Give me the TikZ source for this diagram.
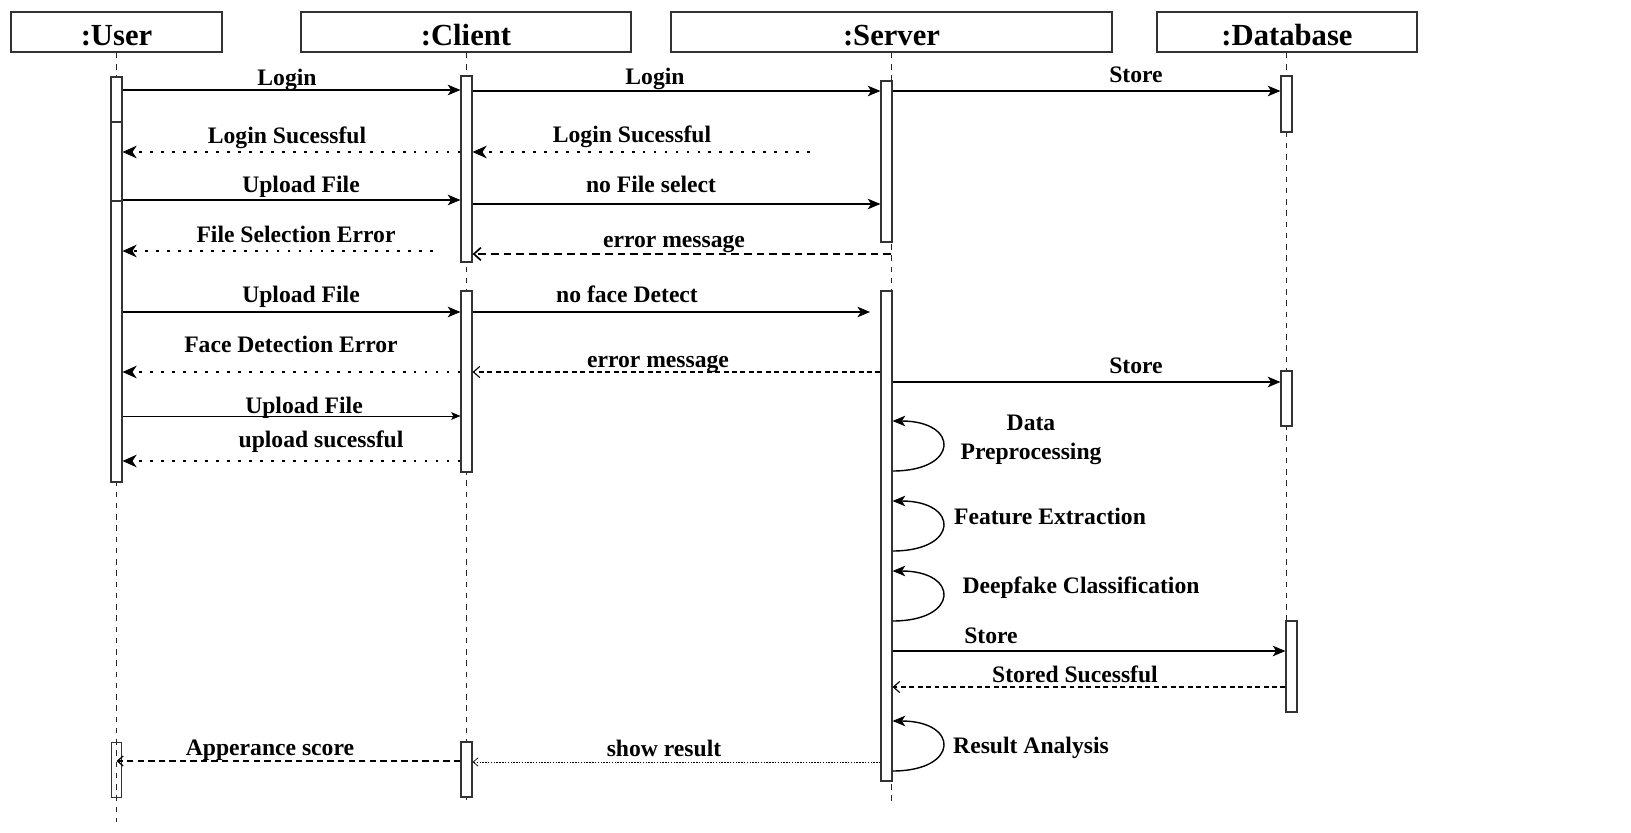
\documentclass[tikz,border=0pt]{standalone}
\usepackage{fontspec}
\setmainfont{Liberation Serif}
\usetikzlibrary{arrows.meta, fit}

\begin{document}
\begin{tikzpicture}[x=0.025cm, y=-0.025cm,
    head/.style={draw=black!80, line width=1.1pt, inner sep=0pt, minimum width=#1, minimum height=1cm,
        text height=0.7cm, text depth=0pt, font=\fontsize{21.8}{26}\selectfont\bfseries},
    lbl/.style={anchor=base, inner sep=0pt, font=\fontsize{16.8}{20.6}\selectfont\bfseries},
    act/.style={draw=black!80, line width=0.9pt, fill=white, inner sep=0pt},
    lifeline/.style={dash pattern=on 4pt off 4pt, line width=0.7pt, black!85},
    tip/.style={-{Stealth[length=9pt, width=7.5pt, inset=2.5pt, line width=0.5pt]}},
    msg/.style={tip, line width=0.9pt},
    thinmsg/.style={-{Stealth[length=6.5pt, width=5.5pt, inset=1.5pt, line width=0.4pt]}, line width=0.6pt},
    retdot/.style={-{Stealth[length=10pt, width=9pt, inset=3pt, line width=0.6pt]}, line width=2pt, dash pattern=on 2pt off 5.8pt},
    errdash/.style={-{Straight Barb[length=5pt, width=9pt, line width=1.2pt]}, line width=1.4pt, dash pattern=on 5.5pt off 3.5pt},
    retdash/.style={-{Straight Barb[length=4.5pt, width=8pt, line width=0.8pt]}, line width=0.8pt, dash pattern=on 3.5pt off 2.5pt},
    showdot/.style={-{Straight Barb[length=3.5pt, width=6pt, line width=0.5pt]}, line width=0.5pt, dash pattern=on 1pt off 1pt},
    scoredash/.style={-{Straight Barb[length=4pt, width=7pt, line width=0.9pt]}, line width=1.1pt, dash pattern=on 4.5pt off 3pt},
    selfloop/.style={tip, line width=1pt}]

    \useasboundingbox (0,0) rectangle (1631,833);

    % Participants
    \node[head=5.275cm] (user) at (116.5,32) {:User};
    \node[head=8.25cm] (client) at (466,32) {:Client};
    \node[head=11.025cm] (server) at (891.5,32) {:Server};
    \node[head=6.5cm] (db) at (1287,32) {:Database};

    % Lifelines
    \coordinate (uEnd) at (116.5,822);
    \coordinate (cEnd) at (466,800);
    \coordinate (sEnd) at (891,802);
    \coordinate (dEnd) at (1286,712);
    \foreach \p/\e in {user/uEnd, client/cEnd, server/sEnd, db/dEnd}
        \draw[lifeline] (\p.south -| \e) -- (\e);

    % Activation bars
    \foreach \nm/\xa/\xb/\ya/\yb in {ua1/111/122/77/122, ua2/111/122/122/201, ua3/111/122/201/482,
        ca1/461/472/76/262, ca2/461/472/291/472, ca3/461/472/742/797,
        sa1/881/892/81/242, sa2/881/892/291/781,
        da1/1281/1292/76/132, da2/1281/1292/371/426, da3/1286/1297/621/712}
        \node[act, fit={(\xa,\ya) (\xb,\yb)}] (\nm) {};
    \node[act, fill=none, line width=0.6pt, fit={(111,742) (121,797)}] (ua4) {};

    % Free message ends
    \coordinate (lsStart) at (810,152);
    \coordinate (fseStart) at (433,251);
    \coordinate (nfdEnd) at (870,312);

    % Calls
    \foreach \a/\b/\y in {ua1.east/ca1.west/90, ca1.east/sa1.west/91, sa1.east/da1.west/91,
        ua2.east/ca1.west/200, ca1.east/sa1.west/204, ua3.east/ca2.west/312,
        ca2.east/nfdEnd/312, sa2.east/da2.west/382, sa2.east/da3.west/651}
        \draw[msg] (\a |- 0,\y) -- (\b |- 0,\y);
    \draw[thinmsg] (ua3.east |- 0,416) -- (ca2.west |- 0,416);

    % Replies (dotted)
    \foreach \a/\b/\y in {ca1.west/ua2.east/152, lsStart/ca1.east/152, fseStart/ua3.east/251,
        ca2.west/ua3.east/372, ca2.west/ua3.east/461}
        \draw[retdot] (\a |- 0,\y) -- (\b |- 0,\y);

    % Replies (dashed)
    \draw[errdash] (sEnd |- 0,254) -- (ca1.east |- 0,254);
    \draw[retdash] (sa2.west |- 0,372) -- (ca2.east |- 0,372);
    \draw[retdash] (da3.west |- 0,687) -- (sa2.east |- 0,687);
    \draw[showdot] (sa2.west |- 0,762) -- (ca3.east |- 0,762);
    \draw[scoredash] (ca3.west |- 0,761) -- (uEnd |- 0,761);

    % Self calls on the server
    \foreach \ya/\yb in {471/421, 551/501, 621/571, 771/721}
        \draw[selfloop] (sa2.east |- 0,\ya) .. controls +(67,0) and +(67,0) .. (sa2.east |- 0,\yb);

    % Message labels
    \foreach \nm/\x/\y/\txt in {lLogin1/287/86/Login, lLogin2/655/85/Login, lStore1/1136/83/Store,
        lOk1/287/144/Login Sucessful, lOk2/632/143/Login Sucessful,
        lUp1/301/193/Upload File, lNoFile/651/193/no File select,
        lFileErr/296/243/File Selection Error, lErr1/674/248/error message,
        lUp2/301/303/Upload File, lNoFace/627/303/no face Detect,
        lFaceErr/291/353/Face Detection Error, lErr2/658/367/error message,
        lStore2/1136/373/Store, lUp3/304/413/Upload File, lUpOk/321/447/upload sucessful,
        lFeat/1050/524/Feature Extraction, lDeep/1081/593/Deepfake Classification,
        lStore3/991/643/Store, lStoredOk/1075/682/Stored Sucessful,
        lResult/1031/753/Result Analysis, lScore/270/755/Apperance score, lShow/664/756/show result}
        \node[lbl] (\nm) at (\x,\y) {\txt};
    \node[lbl, align=center] (lPrep) at (1031,459) {Data\\Preprocessing};
\end{tikzpicture}
\end{document}
